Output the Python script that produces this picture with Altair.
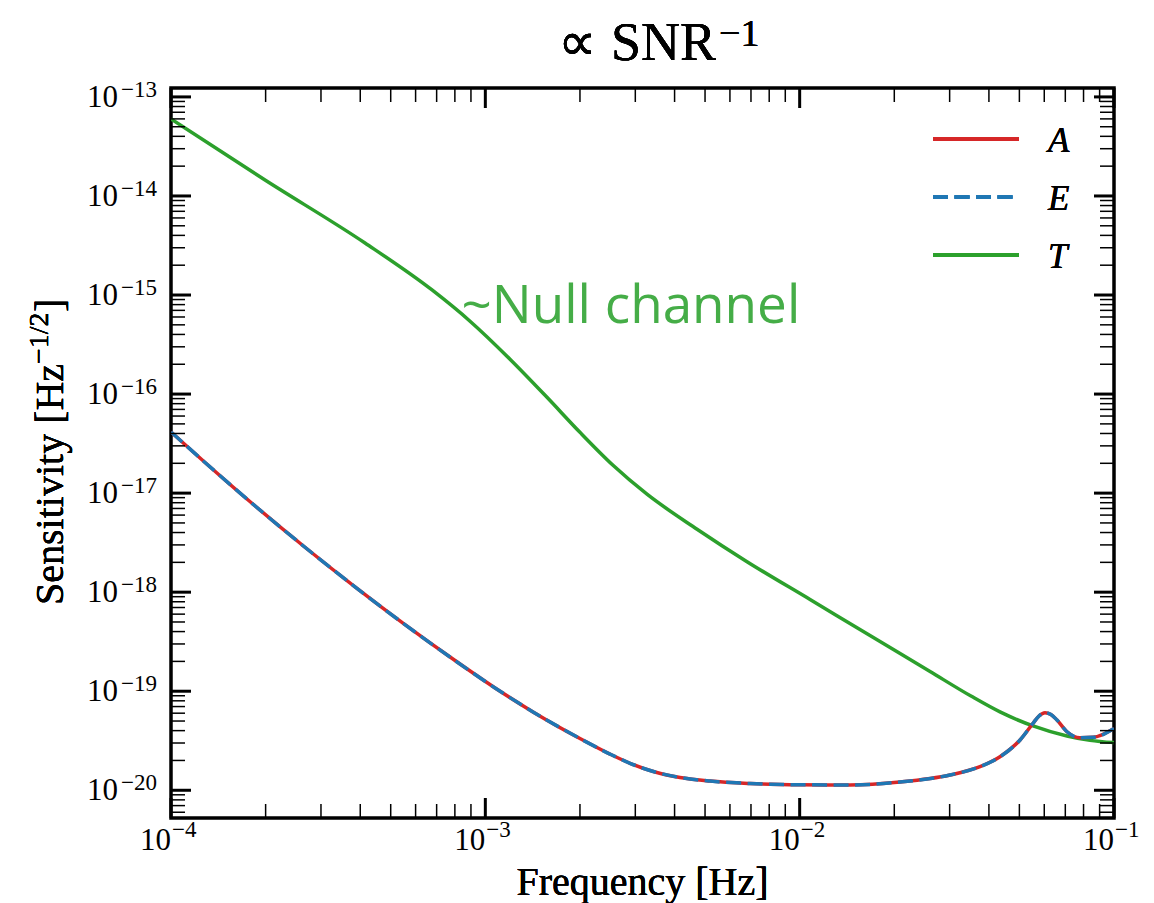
import altair as alt
import pandas as pd

SERIF = "Liberation Serif"
SANS = "Open Sans"

# Curve samples: frequency [Hz] and sensitivity [Hz^-1/2]
ae_freq = [1.00e-4, 1.283e-4, 1.849e-4, 2.668e-4, 3.849e-4, 5.55e-4, 8.01e-4,
           1.074e-3, 1.418e-3, 2.000e-3, 2.492e-3, 2.886e-3, 3.466e-3, 4.162e-3,
           5.185e-3, 6.95e-3, 1.0025e-2, 1.446e-2, 2.085e-2, 3.008e-2, 3.748e-2,
           4.338e-2, 5.025e-2, 5.525e-2, 5.773e-2, 6.031e-2, 6.30e-2, 6.585e-2,
           7.087e-2, 7.794e-2, 8.574e-2, 1.0e-1]
ae_sens = [4.14e-17, 2.04e-17, 7.45e-18, 2.84e-18, 1.13e-18, 4.70e-19, 2.04e-19,
           1.078e-19, 6.18e-20, 3.33e-20, 2.318e-20, 1.872e-20, 1.53e-20, 1.345e-20,
           1.237e-20, 1.170e-20, 1.137e-20, 1.13e-20, 1.212e-20, 1.426e-20, 1.73e-20,
           2.18e-20, 3.22e-20, 4.745e-20, 5.62e-20, 6.07e-20, 5.82e-20, 5.12e-20,
           3.90e-20, 3.39e-20, 3.42e-20, 4.20e-20]

t_freq = [1.0e-4, 1.991e-4, 4.142e-4, 6.767e-4, 8.94e-4, 1.198e-3, 1.571e-3,
          2.000e-3, 2.548e-3, 3.268e-3, 4.716e-3, 6.80e-3, 1.079e-2, 1.674e-2,
          2.599e-2, 3.508e-2, 4.338e-2, 5.525e-2, 7.087e-2, 8.388e-2, 1.0e-1]
t_sens = [5.98e-14, 1.449e-14, 3.35e-15, 1.124e-15, 5.44e-16, 2.249e-16, 9.27e-17,
          4.11e-17, 1.91e-17, 9.75e-18, 4.32e-18, 2.03e-18, 8.43e-19, 3.65e-19,
          1.581e-19, 8.93e-20, 6.18e-20, 4.465e-20, 3.53e-20, 3.19e-20, 3.03e-20]

channels = ["A", "E", "T"]
channel_colors = ["#d62728", "#1f77b4", "#2ca02c"]

# Tick values
x_major = [1e-4, 1e-3, 1e-2, 1e-1]
x_exp = ["\u22124", "\u22123", "\u22122", "\u22121"]
x_minor = [k * 10.0 ** e for e in (-4, -3, -2) for k in range(2, 10)]
y_major = [10.0 ** e for e in range(-20, -12)]
y_exp = ["\u2212%d" % (-e) for e in range(-20, -12)]
Y_LO, Y_HI = 10 ** -20.28, 10 ** -12.91
y_minor = [k * 10.0 ** e for e in range(-21, -13) for k in range(2, 10)
           if Y_LO <= k * 10.0 ** e <= Y_HI]

W, H = 943, 730
xs = alt.Scale(type="log", domain=[1e-4, 1e-1], nice=False)
ys = alt.Scale(type="log", domain=[Y_LO, Y_HI], nice=False)

curves = pd.concat([
    pd.DataFrame({"f": ae_freq, "s": ae_sens, "ch": "A"}),
    pd.DataFrame({"f": ae_freq, "s": ae_sens, "ch": "E"}),
    pd.DataFrame({"f": t_freq, "s": t_sens, "ch": "T"}),
])

X = alt.X("f:Q", scale=xs, axis=None)
Y = alt.Y("s:Q", scale=ys, axis=None)


def curve(ch, color, **kw):
    return (alt.Chart(curves).transform_filter(alt.datum.ch == ch)
            .mark_line(color=color, strokeWidth=3.5, interpolate="monotone",
                       clip=True, **kw)
            .encode(x=X, y=Y, order="f:Q"))


line_t = curve("T", channel_colors[2])
line_a = curve("A", channel_colors[0])
line_e = curve("E", channel_colors[1], strokeDash=[15, 6.5], strokeCap="butt")

# Inward ticks on all four sides
xmaj = pd.DataFrame({"f": x_major})
xmin = pd.DataFrame({"f": x_minor})
ymaj = pd.DataFrame({"s": y_major})
ymin = pd.DataFrame({"s": y_minor})


def xticks(df, length, width):
    bottom = alt.Chart(df).mark_rule(color="black", strokeWidth=width).encode(
        x=X, y=alt.value(H), y2=alt.value(H - length))
    top = alt.Chart(df).mark_rule(color="black", strokeWidth=width).encode(
        x=X, y=alt.value(0), y2=alt.value(length))
    return [bottom, top]


def yticks(df, length, width):
    left = alt.Chart(df).mark_rule(color="black", strokeWidth=width).encode(
        y=Y, x=alt.value(0), x2=alt.value(length))
    right = alt.Chart(df).mark_rule(color="black", strokeWidth=width).encode(
        y=Y, x=alt.value(W), x2=alt.value(W - length))
    return [left, right]


ticks = (xticks(xmin, 14, 1.5) + xticks(xmaj, 20, 3)
         + yticks(ymin, 14, 1.5) + yticks(ymaj, 20, 3))

# Tick labels: "10" with a raised exponent
xlab = pd.DataFrame({"f": x_major, "e": x_exp})
ylab = pd.DataFrame({"s": y_major, "e": y_exp})

xl_base = alt.Chart(xlab).mark_text(
    font=SERIF, fontSize=31, align="right", baseline="alphabetic", text="10"
).encode(x=X, y=alt.value(H + 32))
xl_exp = alt.Chart(xlab).mark_text(
    font=SERIF, fontSize=23, align="left", baseline="alphabetic", dx=1
).encode(x=X, y=alt.value(H + 19), text="e:N")
yl_base = alt.Chart(ylab).mark_text(
    font=SERIF, fontSize=31, align="right", baseline="alphabetic", dy=10, text="10"
).encode(y=Y, x=alt.value(-53))
yl_exp = alt.Chart(ylab).mark_text(
    font=SERIF, fontSize=23, align="left", baseline="alphabetic", dy=0
).encode(y=Y, x=alt.value(-50), text="e:N")

# Axis titles and chart title
xtitle = alt.Chart(xlab).mark_text(
    font=SERIF, fontSize=40, align="center", baseline="alphabetic",
    text="Frequency [Hz]"
).encode(x=alt.value(W / 2), y=alt.value(H + 77))

yt_main = alt.Chart(xlab).mark_text(
    font=SERIF, fontSize=40, align="left", baseline="alphabetic", angle=270,
    text="Sensitivity [Hz"
).encode(x=alt.value(-108), y=alt.value(517))
yt_sup = alt.Chart(xlab).mark_text(
    font=SERIF, fontSize=28, align="left", baseline="alphabetic", angle=270,
    text="\u22121/2"
).encode(x=alt.value(-123), y=alt.value(276))
yt_close = alt.Chart(xlab).mark_text(
    font=SERIF, fontSize=40, align="left", baseline="alphabetic", angle=270,
    text="]"
).encode(x=alt.value(-108), y=alt.value(224))

title_main = alt.Chart(xlab).mark_text(
    font=SERIF, fontSize=54, align="right", baseline="alphabetic",
    text="\u221d SNR"
).encode(x=alt.value(545), y=alt.value(-28))
title_sup = alt.Chart(xlab).mark_text(
    font=SERIF, fontSize=38, align="left", baseline="alphabetic",
    text="\u22121"
).encode(x=alt.value(548), y=alt.value(-42))

# Annotation for the T channel
null_note = alt.Chart(pd.DataFrame({"f": [8.4e-4], "s": [5.2e-16]})).mark_text(
    font=SANS, fontSize=53, align="left", baseline="alphabetic",
    color="#45ad47", text="~Null channel"
).encode(x=X, y=Y)

# Legend
leg_x0, leg_x1, leg_tx = 762, 848, 877
leg_y = [51, 109, 167]
legend = []
for i, ch in enumerate(channels):
    kw = {"strokeDash": [15, 6.5], "strokeCap": "butt"} if ch == "E" else {}
    legend.append(alt.Chart(xlab).mark_rule(
        color=channel_colors[i], strokeWidth=3.5, **kw
    ).encode(x=alt.value(leg_x0), x2=alt.value(leg_x1), y=alt.value(leg_y[i])))
    legend.append(alt.Chart(xlab).mark_text(
        font=SERIF, fontSize=35, fontStyle="italic", fontWeight="normal",
        align="left", baseline="alphabetic", text=ch
    ).encode(x=alt.value(leg_tx), y=alt.value(leg_y[i] + 13)))

chart = alt.layer(
    line_t, line_a, line_e, *ticks,
    xl_base, xl_exp, yl_base, yl_exp,
    xtitle, yt_main, yt_sup, yt_close, title_main, title_sup,
    null_note, *legend
).properties(
    width=W, height=H,
    autosize=alt.AutoSizeParams(type="none"),
    padding={"left": 171, "top": 88, "right": 40, "bottom": 85},
).configure_view(stroke="black", strokeWidth=3.5)

chart.save("out.html", embed_options={"renderer": "svg", "actions": False})
